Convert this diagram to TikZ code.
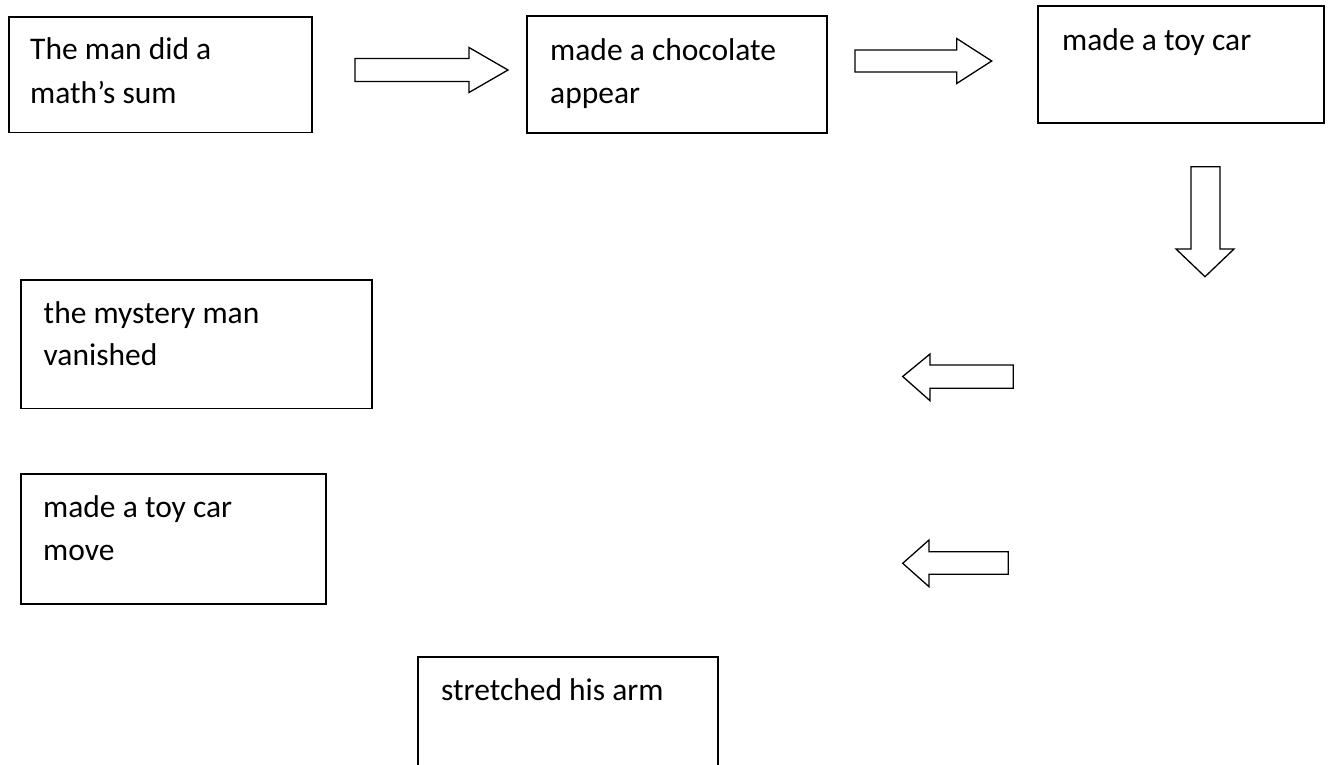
\documentclass[tikz,border=0pt]{standalone}
\usepackage{fontspec}
\setmainfont{Carlito}
\begin{document}
\begin{tikzpicture}[x=1pt,y=-1pt,
  boxstyle/.style={draw=black,line width=1.6pt},
  txt/.style={inner sep=0pt,anchor=base west,font=\fontsize{31.5}{44}\selectfont},
  blockarrow/.style={draw=black,line width=1.3pt,fill=white,line join=miter}]
\clip (0,0) rectangle (1328,764);
\fill[white] (0,0) rectangle (1328,764);
% boxes
\draw[boxstyle] (8.7,16.7) rectangle (312,132.3);
\node[txt] (t1a) at (30,59) {The man did a};
\node[txt] (t1b) at (30,103) {math’s sum};
\draw[boxstyle] (527,16) rectangle (826.7,133);
\node[txt] (t2a) at (550,60) {made a chocolate};
\node[txt] (t2b) at (550,103) {appear};
\draw[boxstyle] (1038,6) rectangle (1324,122.7);
\node[txt] (t3a) at (1062,50) {made a toy car};
\draw[boxstyle] (21,280) rectangle (371.7,408.3);
\node[txt] (t4a) at (43.5,323) {the mystery man};
\node[txt] (t4b) at (43.5,365) {vanished};
\draw[boxstyle] (21,474) rectangle (325.7,604);
\node[txt] (t5a) at (43,517) {made a toy car};
\node[txt] (t5b) at (43,560) {move};
\draw[boxstyle] (417.7,657) rectangle (717.7,790);
\node[txt] (t6a) at (441,700) {stretched his arm};
% block arrows
\draw[blockarrow] (355,58.5) -- (469,58.5) -- (469,47.5) -- (508,70) -- (469,92.5) -- (469,81.5) -- (355,81.5) -- cycle;
\draw[blockarrow] (855,50) -- (956.7,50) -- (956.7,38.5) -- (991.7,61) -- (956.7,83.5) -- (956.7,72) -- (855,72) -- cycle;
\draw[blockarrow] (1191,166.7) -- (1220,166.7) -- (1220,249) -- (1234,249) -- (1205,276.7) -- (1176,249) -- (1191,249) -- cycle;
\draw[blockarrow] (1013.3,365) -- (930,365) -- (930,354) -- (902.7,376.5) -- (930,400.7) -- (930,388.3) -- (1013.3,388.3) -- cycle;
\draw[blockarrow] (1008.3,551.7) -- (929,551.7) -- (929,540) -- (902.7,563.3) -- (929,586.7) -- (929,574.3) -- (1008.3,574.3) -- cycle;
\end{tikzpicture}
\end{document}
